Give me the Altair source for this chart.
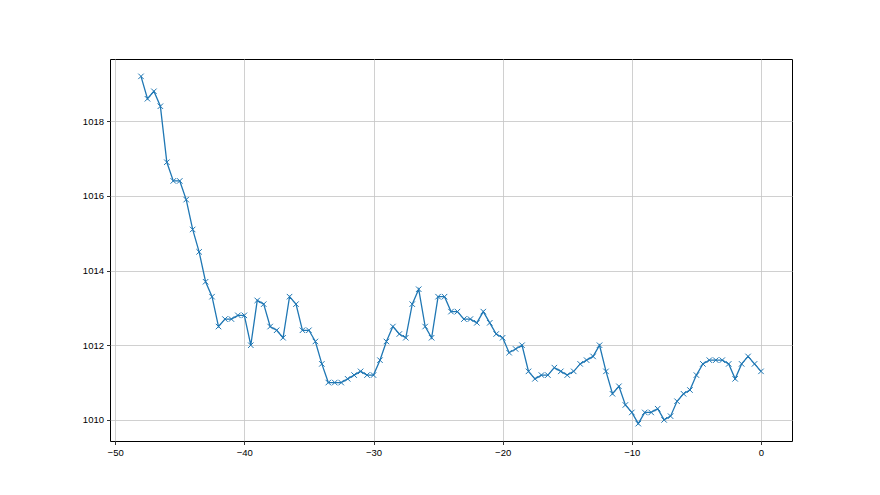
import altair as alt
import pandas as pd

hours = [-48 + 0.5 * i for i in range(97)]
pressure = [
    1019.2, 1018.6, 1018.8, 1018.4, 1016.9, 1016.4, 1016.4, 1015.9, 1015.1, 1014.5,
    1013.7, 1013.3, 1012.5, 1012.7, 1012.7, 1012.8, 1012.8, 1012.0, 1013.2, 1013.1,
    1012.5, 1012.4, 1012.2, 1013.3, 1013.1, 1012.4, 1012.4, 1012.1, 1011.5, 1011.0,
    1011.0, 1011.0, 1011.1, 1011.2, 1011.3, 1011.2, 1011.2, 1011.6, 1012.1, 1012.5,
    1012.3, 1012.2, 1013.1, 1013.5, 1012.5, 1012.2, 1013.3, 1013.3, 1012.9, 1012.9,
    1012.7, 1012.7, 1012.6, 1012.9, 1012.6, 1012.3, 1012.2, 1011.8, 1011.9, 1012.0,
    1011.3, 1011.1, 1011.2, 1011.2, 1011.4, 1011.3, 1011.2, 1011.3, 1011.5, 1011.6,
    1011.7, 1012.0, 1011.3, 1010.7, 1010.9, 1010.4, 1010.2, 1009.9, 1010.2, 1010.2,
    1010.3, 1010.0, 1010.1, 1010.5, 1010.7, 1010.8, 1011.2, 1011.5, 1011.6, 1011.6,
    1011.6, 1011.5, 1011.1, 1011.5, 1011.7, 1011.5, 1011.3,
]
x_ticks = [-50, -40, -30, -20, -10, 0]
y_ticks = [1010, 1012, 1014, 1016, 1018]

df = pd.DataFrame({"hour": hours, "pressure": pressure})

xmin, xmax = min(hours), max(hours)
ymin, ymax = min(pressure), max(pressure)
xpad = (xmax - xmin) * 0.05
ypad = (ymax - ymin) * 0.05

x = alt.X("hour:Q", title=None,
          scale=alt.Scale(domain=[xmin - xpad, xmax + xpad], nice=False, zero=False),
          axis=alt.Axis(values=x_ticks, format="d"))
y = alt.Y("pressure:Q", title=None,
          scale=alt.Scale(domain=[ymin - ypad, ymax + ypad], nice=False, zero=False),
          axis=alt.Axis(values=y_ticks, format="d"))

base = alt.Chart(df).encode(x=x, y=y)
line = base.mark_line(color="#1f77b4", strokeWidth=1.3)
pts = base.mark_point(shape="M-1,-1L1,1M-1,1L1,-1", filled=False, size=30,
                      strokeWidth=1, color="#1f77b4", opacity=1)

chart = (line + pts).properties(
    width=682, height=382,
    autosize=alt.AutoSizeParams(type="none"),
    padding={"left": 102, "top": 51, "right": 80, "bottom": 46},
    background="white",
).configure_view(stroke="black", strokeWidth=1).configure_axis(
    domain=False,
    grid=True,
    gridColor="#c4c4c4",
    gridWidth=0.8,
    tickColor="black",
    tickSize=3.5,
    tickWidth=0.8,
    labelColor="black",
    labelFont="Liberation Sans Narrow, Liberation Sans",
    labelFontSize=9.5,
    labelPadding=3,
)

chart.save("out.html", embed_options={"renderer": "svg", "actions": False})
